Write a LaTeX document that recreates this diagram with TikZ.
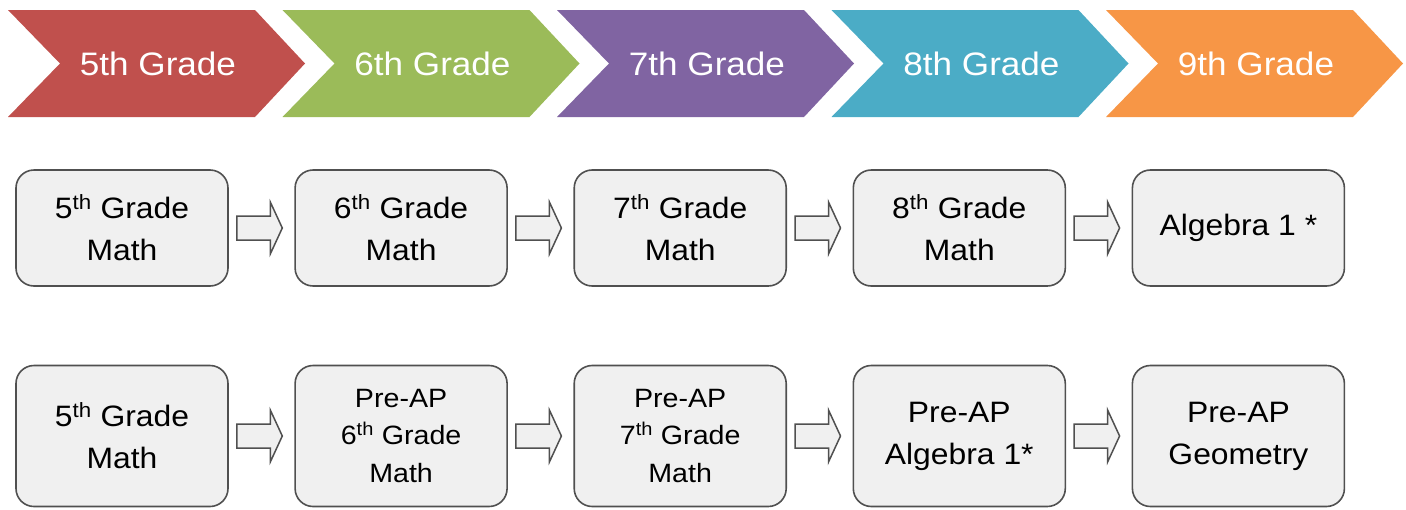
\documentclass[tikz,border=0pt]{standalone}
\usepackage{fontspec}
\setmainfont[FakeStretch=1.08]{Liberation Sans}
\usetikzlibrary{positioning, calc}
\definecolor{GradeRed}{RGB}{192, 80, 77}
\definecolor{GradeGreen}{RGB}{155, 187, 89}
\definecolor{GradePurple}{RGB}{128, 100, 162}
\definecolor{GradeBlue}{RGB}{75, 172, 198}
\definecolor{GradeOrange}{RGB}{247, 150, 70}
\definecolor{BoxGray}{RGB}{240, 240, 240}
\definecolor{EdgeGray}{RGB}{80, 80, 80}

% block arrow from one course box to the next
\newcommand{\fatarrow}[2]{%
  \draw[blockarr] ($(#1.east)+(8,-12)$) -- ($(#2.west)+(-24,-12)$) -- ($(#2.west)+(-24,-26)$)
    -- ($(#2.west)+(-12,0)$) -- ($(#2.west)+(-24,26)$) -- ($(#2.west)+(-24,12)$)
    -- ($(#1.east)+(8,12)$) -- cycle;}

\begin{document}
\begin{tikzpicture}[x=1pt, y=-1pt,
      course/.style={rectangle, rounded corners=18pt, draw=EdgeGray, line width=1.6pt, fill=BoxGray, minimum width=212pt, minimum height=116pt, align=center, font=\fontsize{29.5}{42}\selectfont},
      tallcourse/.style={course, minimum height=141pt},
      small/.style={font=\fontsize{26.5}{37.5}\selectfont},
      blockarr/.style={draw=EdgeGray, line width=1.5pt, fill=BoxGray, line join=miter},
      grade/.style={text=white, font=\fontsize{32.5}{36}\selectfont}
    ]
      \useasboundingbox (0,0) rectangle (1406,509);

      % grade banner
      \foreach \c/\g [count=\i from 0] in {GradeRed/5, GradeGreen/6, GradePurple/7, GradeBlue/8, GradeOrange/9}{
        \fill[\c] ({8+274.5*\i},10) -- ++(247,0) -- ++(50,53.5) -- ++(-50,53.5) -- ++(-247,0) -- ++(52,-53.5) -- cycle;
        \node[grade] (hdr\g) at ({158+274.5*\i},63.5) {\g th Grade};
      }

      % regular track
      \node[course] (reg5) at (122,228) {5\textsuperscript{th} Grade\\Math};
      \node[course, right=65.5pt of reg5] (reg6) {6\textsuperscript{th} Grade\\Math};
      \node[course, right=65.5pt of reg6] (reg7) {7\textsuperscript{th} Grade\\Math};
      \node[course, right=65.5pt of reg7] (reg8) {8\textsuperscript{th} Grade\\Math};
      \node[course, right=65.5pt of reg8] (alg1) {Algebra 1 *};

      % pre-AP track
      \node[tallcourse] (pap5) at (122,436) {5\textsuperscript{th} Grade\\Math};
      \node[tallcourse, small, right=65.5pt of pap5] (pap6) {Pre-AP\\6\textsuperscript{th} Grade\\Math};
      \node[tallcourse, small, right=65.5pt of pap6] (pap7) {Pre-AP\\7\textsuperscript{th} Grade\\Math};
      \node[tallcourse, right=65.5pt of pap7] (papalg) {Pre-AP\\Algebra 1*};
      \node[tallcourse, right=65.5pt of papalg] (papgeo) {Pre-AP\\Geometry};

      \foreach \a/\b in {reg5/reg6, reg6/reg7, reg7/reg8, reg8/alg1, pap5/pap6, pap6/pap7, pap7/papalg, papalg/papgeo}
        \fatarrow{\a}{\b};
    \end{tikzpicture}
\end{document}
